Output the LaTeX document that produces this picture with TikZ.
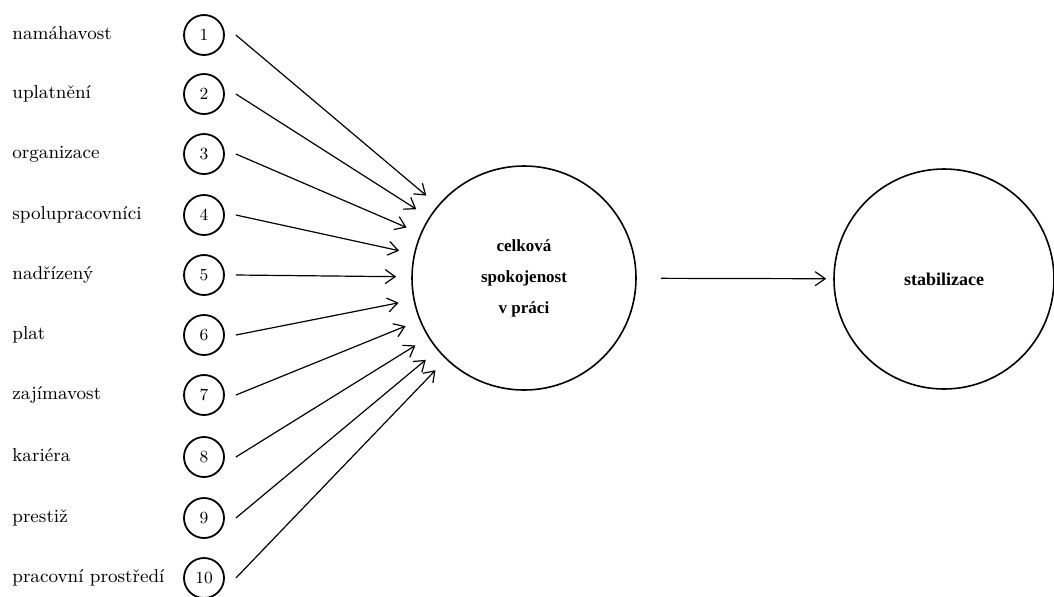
\documentclass[tikz,border=0pt]{standalone}
\usepackage{fontspec}
\newfontfamily\tms{Liberation Serif}
\usetikzlibrary{arrows.meta}
\tikzset{
  num/.style={circle, draw, line width=0.9pt, minimum size=20pt, inner sep=0pt, font=\fontsize{8.5}{10}\selectfont},
  lab/.style={anchor=base west, inner sep=0pt, font=\fontsize{9.3}{11}\selectfont},
  bigc/.style={circle, draw, line width=0.8pt, minimum size=112pt, inner sep=0pt, align=center},
  arr/.style={-{Straight Barb[length=5pt,width=7pt]}, line width=0.6pt, shorten <=0pt, shorten >=7.5pt}
}
\begin{document}
\begin{tikzpicture}[x=0.5pt, y=-0.5pt]
\useasboundingbox (0,0) rectangle (1054,596);
% big circles
\node[bigc, font=\tms\bfseries\fontsize{8.5}{15.5}\selectfont] (big) at (524,278) {celková\\spokojenost\\v práci};
\node[bigc, minimum size=110pt, font=\tms\bfseries\fontsize{9}{11}\selectfont] (stab) at (944,279) {stabilizace};
% small numbered circles and labels
\foreach \i/\y/\t in {1/35/namáhavost, 2/94/uplatnění, 3/154/organizace, 4/215/spolupracovníci, 5/275/nadřízený, 6/335/plat, 7/395/zajímavost, 8/457/kariéra, 9/518/prestiž, 10/578/pracovní prostředí}{
  \node[num] (c\i) at (204,\y) {\i};
  \node[lab] (l\i) at (12,\y+4) {\t};
  \coordinate (s\i) at ([xshift=5.5pt]c\i.east);
  \draw[arr] (s\i) -- (big);
}
\draw[arr, shorten <=12pt, shorten >=3.5pt] (big) -- (stab);
\end{tikzpicture}
\end{document}
